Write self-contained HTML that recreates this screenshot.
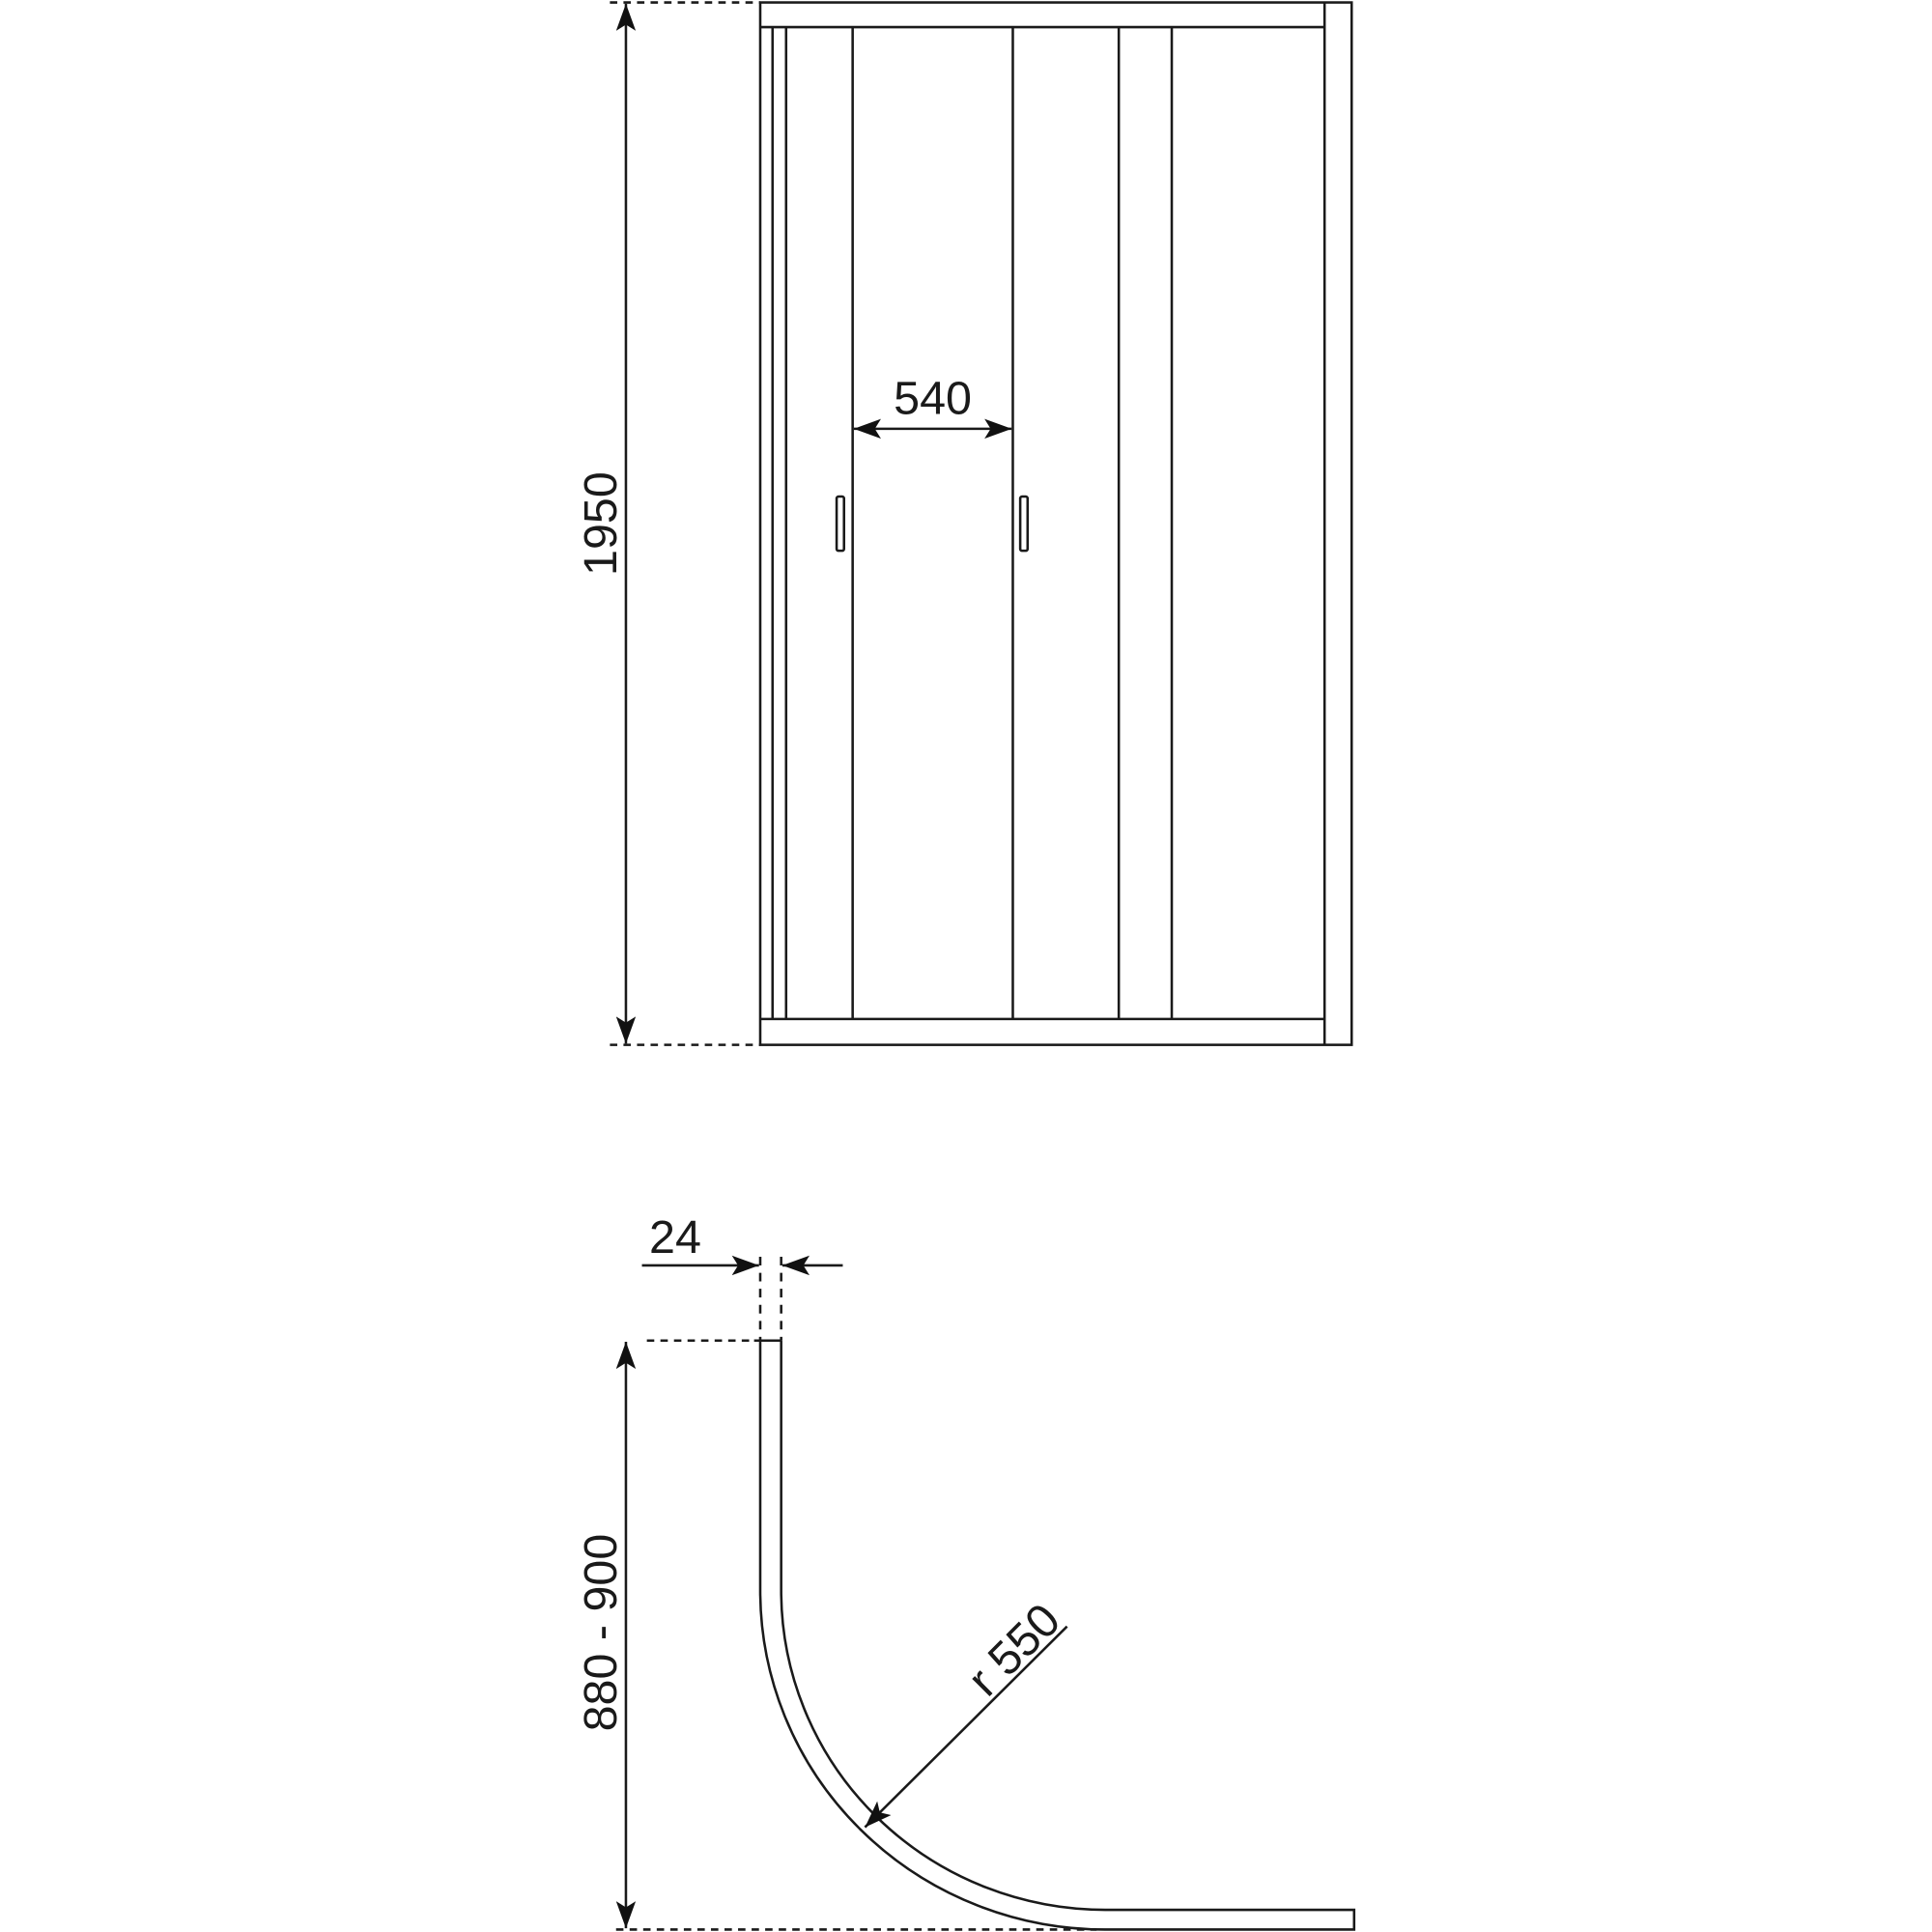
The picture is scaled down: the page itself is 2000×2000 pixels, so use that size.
<!DOCTYPE html>
<html><head><style>html,body{margin:0;padding:0;background:#fff}svg{display:block}</style></head>
<body>
<svg width="2000" height="2000" viewBox="0 0 1568 1568" xmlns="http://www.w3.org/2000/svg">
<defs>
<marker id="a" viewBox="0 0 22 16" refX="22" refY="8" markerWidth="22" markerHeight="16" markerUnits="userSpaceOnUse" orient="auto-start-reverse">
<path d="M0,0 L22,8 L0,16 L5,8 Z" fill="#111"/></marker>
</defs>
<g fill="none" stroke="#1a1a1a" stroke-width="2">
<rect x="617" y="2" width="480" height="846"/>
<line x1="1075" y1="2" x2="1075" y2="848"/>
<line x1="617" y1="22" x2="1075" y2="22"/>
<line x1="617" y1="827" x2="1075" y2="827"/>
<line x1="627" y1="22" x2="627" y2="827"/>
<line x1="638" y1="22" x2="638" y2="827"/>
<line x1="692" y1="22" x2="692" y2="827"/>
<line x1="822" y1="22" x2="822" y2="827"/>
<line x1="908" y1="22" x2="908" y2="827"/>
<line x1="951" y1="22" x2="951" y2="827"/>
<rect x="679" y="403" width="6" height="44" rx="1.5"/>
<rect x="828" y="403" width="6" height="44" rx="1.5"/>
<line x1="495" y1="2" x2="617" y2="2" stroke-dasharray="6,5"/>
<line x1="495" y1="848" x2="617" y2="848" stroke-dasharray="6,5"/>
<line x1="508" y1="3" x2="508" y2="847" marker-start="url(#a)" marker-end="url(#a)"/>
<line x1="693" y1="348" x2="821" y2="348" marker-start="url(#a)" marker-end="url(#a)"/>
<line x1="521" y1="1027" x2="616" y2="1027" marker-end="url(#a)"/>
<line x1="684" y1="1027" x2="635" y2="1027" marker-end="url(#a)"/>
<line x1="617" y1="1020" x2="617" y2="1088" stroke-dasharray="7,6"/>
<line x1="634" y1="1020" x2="634" y2="1088" stroke-dasharray="7,6"/>
<line x1="525" y1="1088" x2="612" y2="1088" stroke-dasharray="6,5"/>
<line x1="612" y1="1088" x2="634" y2="1088"/>
<path d="M617,1088 L617,1291 A280,275 0 0 0 897,1566 L1099,1566 L1099,1550 L897,1550 A263,259 0 0 1 634,1291 L634,1088"/>
<line x1="500" y1="1566" x2="890" y2="1566" stroke-dasharray="6,5"/>
<line x1="508" y1="1089" x2="508" y2="1565" marker-start="url(#a)" marker-end="url(#a)"/>
<line x1="866" y1="1320" x2="702" y2="1483" marker-end="url(#a)"/>
</g>
<g font-family="Liberation Sans, sans-serif" font-size="38" fill="#1a1a1a" text-anchor="middle">
<text transform="translate(500,425) rotate(-90)">1950</text>
<text x="757" y="336">540</text>
<text x="548" y="1017">24</text>
<text transform="translate(500,1325) rotate(-90)">880 - 900</text>
<text transform="translate(832,1348) rotate(-45)">r 550</text>
</g>
</svg>
</body></html>
